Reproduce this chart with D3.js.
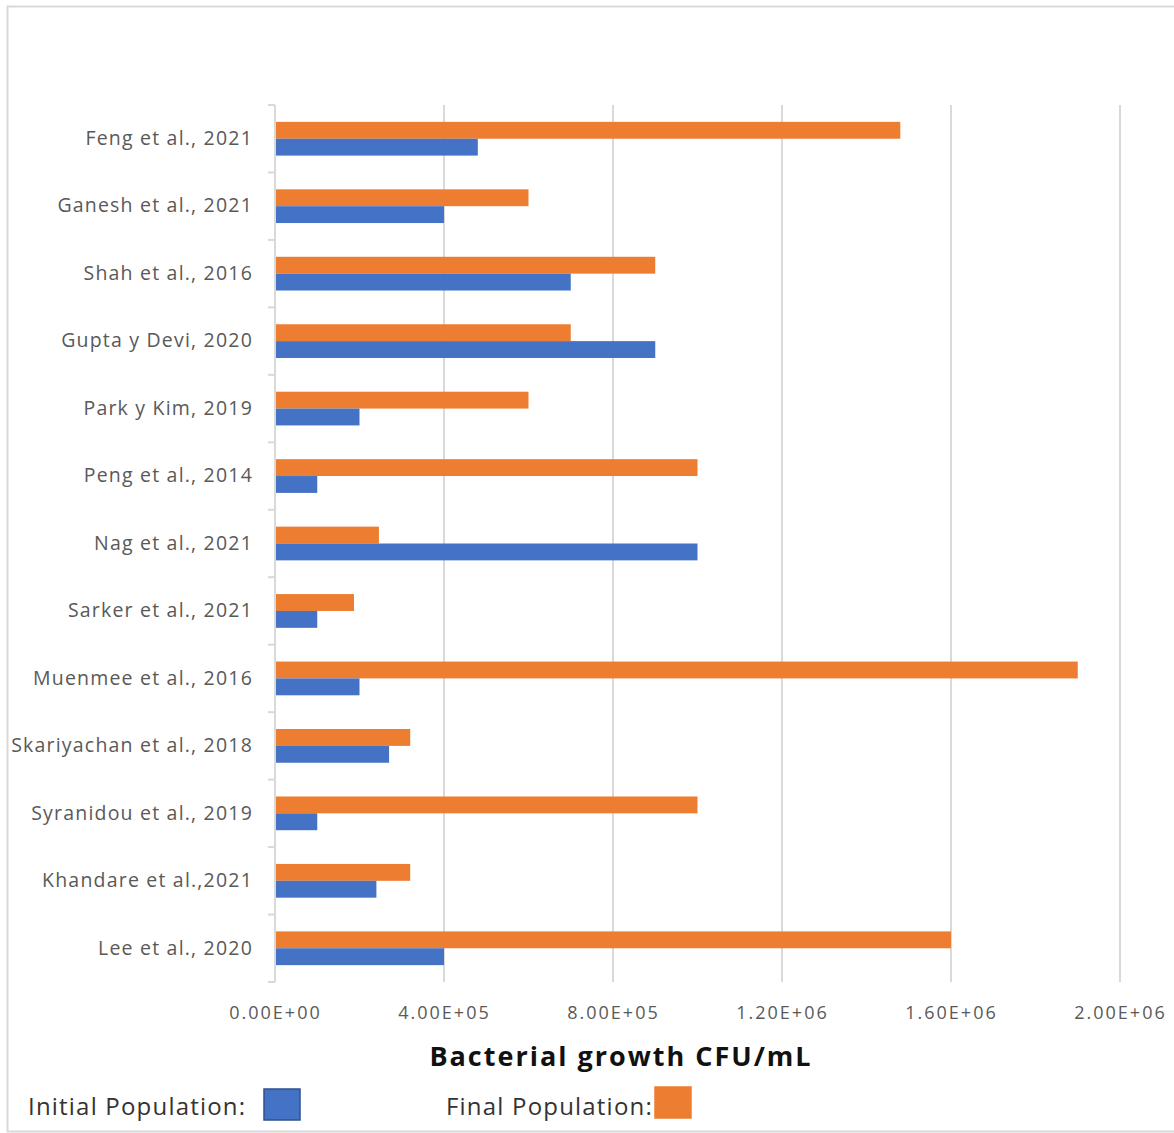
<!DOCTYPE html>
<html>
<head>
<meta charset="utf-8">
<script src="https://cdn.jsdelivr.net/npm/d3@7"></script>
<style>
  body { margin: 0; background: #fff; }
  text { font-family: "Open Sans", Lato, sans-serif; }
</style>
</head>
<body>
<svg></svg>
<script>
  var width = 1174;
  var height = 1133;

  // data
  var studies = ['Feng et al., 2021', 'Ganesh et al., 2021', 'Shah et al., 2016', 'Gupta y Devi, 2020',
    'Park y Kim, 2019', 'Peng et al., 2014', 'Nag et al., 2021', 'Sarker et al., 2021',
    'Muenmee et al., 2016', 'Skariyachan et al., 2018', 'Syranidou et al., 2019',
    'Khandare et al.,2021', 'Lee et al., 2020'];
  var initialPop = [4.8e5, 4.0e5, 7.0e5, 9.0e5, 2.0e5, 1.0e5, 1.0e6, 1.0e5, 2.0e5, 2.7e5, 1.0e5, 2.4e5, 4.0e5];
  var finalPop = [1.48e6, 6.0e5, 9.0e5, 7.0e5, 6.0e5, 1.0e6, 2.46e5, 1.87e5, 1.9e6, 3.2e5, 1.0e6, 3.2e5, 1.6e6];
  var xTicks = [0, 4e5, 8e5, 1.2e6, 1.6e6, 2e6];
  var series = [
    { key: 'final', label: 'Final Population:', color: '#ED7D31', values: finalPop },
    { key: 'initial', label: 'Initial Population:', color: '#4472C4', values: initialPop }
  ];

  var svg = d3.select('svg')
    .attr('width', width)
    .attr('height', height);

  // frame
  svg.append('rect')
    .attr('x', 7.5).attr('y', 6.5)
    .attr('width', width - 6).attr('height', 1125)
    .attr('fill', 'none')
    .attr('stroke', '#d9d9d9')
    .attr('stroke-width', 2);

  var x = d3.scaleLinear().domain([0, 2e6]).range([275, 1120]);
  var y = d3.scaleBand().domain(studies).range([105, 982]).paddingInner(0.5).paddingOuter(0.25);
  var ySub = d3.scaleBand().domain(['final', 'initial']).range([0, y.bandwidth()]);

  // gridlines
  svg.append('g').selectAll('line')
    .data(xTicks.slice(1))
    .enter()
    .append('line')
    .attr('x1', function (d) { return x(d); })
    .attr('x2', function (d) { return x(d); })
    .attr('y1', 105)
    .attr('y2', 982)
    .attr('stroke', '#d9d9d9')
    .attr('stroke-width', 2);

  // bars
  var rows = svg.append('g').selectAll('g')
    .data(studies)
    .enter()
    .append('g')
    .attr('transform', function (d) { return 'translate(0,' + y(d) + ')'; });

  rows.selectAll('rect')
    .data(function (d, i) {
      return series.map(function (s) { return { key: s.key, color: s.color, value: s.values[i] }; });
    })
    .enter()
    .append('rect')
    .attr('x', x(0))
    .attr('y', function (d) { return ySub(d.key); })
    .attr('width', function (d) { return x(d.value) - x(0); })
    .attr('height', ySub.bandwidth())
    .attr('fill', function (d) { return d.color; });

  // y axis
  var yAxis = d3.axisLeft(y).tickSize(0).tickPadding(22);
  var gy = svg.append('g')
    .attr('transform', 'translate(275,0)')
    .call(yAxis);
  gy.select('.domain').attr('stroke', '#d9d9d9').attr('stroke-width', 2)
    .attr('d', 'M0,105V982');
  gy.selectAll('text')
    .attr('fill', '#595959')
    .style('font-size', '19.5px')
    .style('letter-spacing', '1.2px');

  // category separators
  svg.append('g').selectAll('line')
    .data(d3.range(studies.length + 1))
    .enter()
    .append('line')
    .attr('x1', 268).attr('x2', 275)
    .attr('y1', function (d) { return 105 + d * (982 - 105) / studies.length; })
    .attr('y2', function (d) { return 105 + d * (982 - 105) / studies.length; })
    .attr('stroke', '#d9d9d9')
    .attr('stroke-width', 2);

  // x tick labels
  var xAxis = d3.axisBottom(x).tickValues(xTicks).tickSize(0).tickPadding(24)
    .tickFormat(function (d) {
      var e = d === 0 ? 0 : Math.floor(Math.log10(d));
      var m = d === 0 ? 0 : d / Math.pow(10, e);
      return m.toFixed(2) + 'E+' + (e < 10 ? '0' : '') + e;
    });
  var gx = svg.append('g')
    .attr('transform', 'translate(0,982)')
    .call(xAxis);
  gx.select('.domain').remove();
  gx.selectAll('text')
    .attr('fill', '#595959')
    .style('font-size', '18px')
    .style('letter-spacing', '2px');

  // axis title
  svg.append('text')
    .attr('x', 621)
    .attr('y', 1066)
    .attr('text-anchor', 'middle')
    .style('font-size', '27px')
    .style('font-weight', 'bold')
    .style('letter-spacing', '2px')
    .attr('fill', '#111')
    .text('Bacterial growth CFU/mL');

  // legend
  var legend = [
    { label: 'Initial Population:', color: '#4472C4', stroke: '#2f528f', tx: 28, bx: 264, by: 1089 },
    { label: 'Final Population:', color: '#ED7D31', stroke: '#ED7D31', tx: 446, bx: 655, by: 1087 }
  ];
  var lg = svg.append('g').selectAll('g')
    .data(legend)
    .enter()
    .append('g');
  lg.append('text')
    .attr('x', function (d) { return d.tx; })
    .attr('y', 1115)
    .style('font-size', '24px')
    .style('letter-spacing', '1.2px')
    .attr('fill', '#333')
    .text(function (d) { return d.label; });
  lg.append('rect')
    .attr('x', function (d) { return d.bx; })
    .attr('y', function (d) { return d.by; })
    .attr('width', 36)
    .attr('height', 31)
    .attr('fill', function (d) { return d.color; })
    .attr('stroke', function (d) { return d.stroke; })
    .attr('stroke-width', 1.5);
</script>
</body>
</html>
